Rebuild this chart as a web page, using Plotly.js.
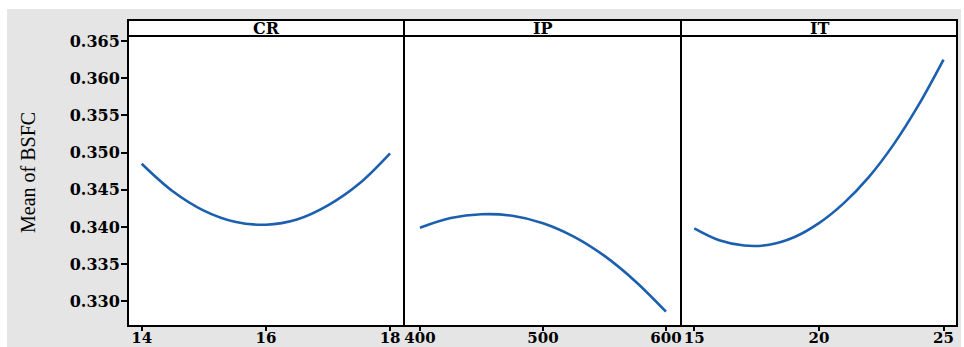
<!DOCTYPE html>
<html>
<head>
<meta charset="utf-8">
<script src="https://cdn.plot.ly/plotly-3.0.1.min.js"></script>
<style>
  html, body { margin: 0; padding: 0; background: #ffffff; width: 964px; height: 347px; overflow: hidden; }
  #chart { position: absolute; left: 7px; top: 9px; width: 954px; height: 338px; }
</style>
</head>
<body>
<div id="chart"></div>
<script>
// Panel names (factors)
const panels = ["CR", "IP", "IT"];

// CR factor: x levels and mean BSFC
const crX = [14, 14.5, 15, 15.5, 16, 16.5, 17, 17.5, 18];
const crY = [0.3485, 0.3448, 0.3422, 0.3407, 0.3403, 0.3410, 0.3429, 0.3458, 0.3499];

// IP factor
const ipX = [400, 425, 450, 475, 500, 525, 550, 575, 600];
const ipY = [0.3399, 0.3412, 0.3417, 0.3415, 0.3405, 0.3387, 0.3361, 0.3327, 0.3286];

// IT factor
const itX = [15, 16, 17, 18, 19, 20, 21, 22, 23, 24, 25];
const itY = [0.3398, 0.3382, 0.3375, 0.3376, 0.3386, 0.3405, 0.3432, 0.3467, 0.3511, 0.3564, 0.3625];

// Tick labels
const crTicks = [14, 16, 18];
const ipTicks = [400, 500, 600];
const itTicks = [15, 20, 25];
const yTicks = [0.330, 0.335, 0.340, 0.345, 0.350, 0.355, 0.360, 0.365];

const lineColor = "#1b5fae";
const tickFont = { family: "DejaVu Serif", size: 16, color: "#000", weight: "bold" };
const xTickFont = { family: "DejaVu Serif", size: 15, color: "#000", weight: "bold" };

const traces = [
  { x: crX, y: crY, xaxis: "x", yaxis: "y", mode: "lines", line: { color: lineColor, width: 2.6, shape: "spline" }, hoverinfo: "x+y" },
  { x: ipX, y: ipY, xaxis: "x2", yaxis: "y2", mode: "lines", line: { color: lineColor, width: 2.6, shape: "spline" }, hoverinfo: "x+y" },
  { x: itX, y: itY, xaxis: "x3", yaxis: "y3", mode: "lines", line: { color: lineColor, width: 2.6, shape: "spline" }, hoverinfo: "x+y" }
];

const yTop = 290 / 306;
const d1 = 276 / 829, d2 = 553 / 829;
const yRange = [0.326675, 0.365673];

function xAxis(domain, range, ticks, anchor) {
  return {
    domain: domain, range: range, tickvals: ticks, ticktext: ticks.map(String),
    ticks: "outside", ticklen: 4, tickwidth: 2, tickcolor: "#000",
    ticklabelstandoff: -6,
    showgrid: false, zeroline: false, showline: false,
    tickfont: xTickFont, anchor: anchor
  };
}

const yBase = {
  domain: [0, yTop], range: yRange, showgrid: false, zeroline: false, showline: false
};

const layout = {
  width: 954, height: 338,
  margin: { l: 121, r: 4, t: 11, b: 21 },
  paper_bgcolor: "#e5e5e5",
  plot_bgcolor: "#ffffff",
  showlegend: false,
  xaxis: xAxis([0, d1], [13.78, 18.224], crTicks, "y"),
  xaxis2: xAxis([d1, d2], [387, 612.2], ipTicks, "y2"),
  xaxis3: xAxis([d2, 1], [14.466, 25.54], itTicks, "y3"),
  yaxis: Object.assign({}, yBase, {
    anchor: "x", tickvals: yTicks, ticktext: yTicks.map(v => v.toFixed(3)),
    ticks: "outside", ticklen: 6, tickwidth: 2, tickcolor: "#000", tickfont: tickFont,
    ticklabelstandoff: -2
  }),
  yaxis2: Object.assign({}, yBase, { anchor: "x2", showticklabels: false, ticks: "" }),
  yaxis3: Object.assign({}, yBase, { anchor: "x3", showticklabels: false, ticks: "" }),
  shapes: [],
  annotations: []
};

const doms = [[0, d1], [d1, d2], [d2, 1]];
doms.forEach((d, i) => {
  layout.shapes.push({ type: "rect", xref: "paper", yref: "paper", x0: d[0], x1: d[1], y0: yTop, y1: 1,
    fillcolor: "#ffffff", line: { color: "#000", width: 2 }, layer: "below" });
  layout.shapes.push({ type: "rect", xref: "paper", yref: "paper", x0: d[0], x1: d[1], y0: 0, y1: 1,
    line: { color: "#000", width: 2 }, layer: "above" });
  layout.shapes.push({ type: "line", xref: "paper", yref: "paper", x0: d[0], x1: d[1], y0: yTop, y1: yTop,
    line: { color: "#000", width: 2 }, layer: "above" });
  layout.annotations.push({
    text: panels[i], xref: "paper", yref: "paper", x: (d[0] + d[1]) / 2, y: (yTop + 1) / 2,
    xanchor: "center", yanchor: "middle", showarrow: false,
    font: { family: "DejaVu Serif", size: 16, color: "#000", weight: "bold" }
  });
});

layout.annotations.push({
  text: "Mean of BSFC", xref: "paper", yref: "paper", x: -100 / 829, y: 0.5,
  xanchor: "center", yanchor: "middle", textangle: -90, showarrow: false,
  font: { family: "Liberation Serif", size: 20, color: "#000" }
});

Plotly.newPlot("chart", traces, layout, { displayModeBar: false, staticPlot: true });
</script>
</body>
</html>
